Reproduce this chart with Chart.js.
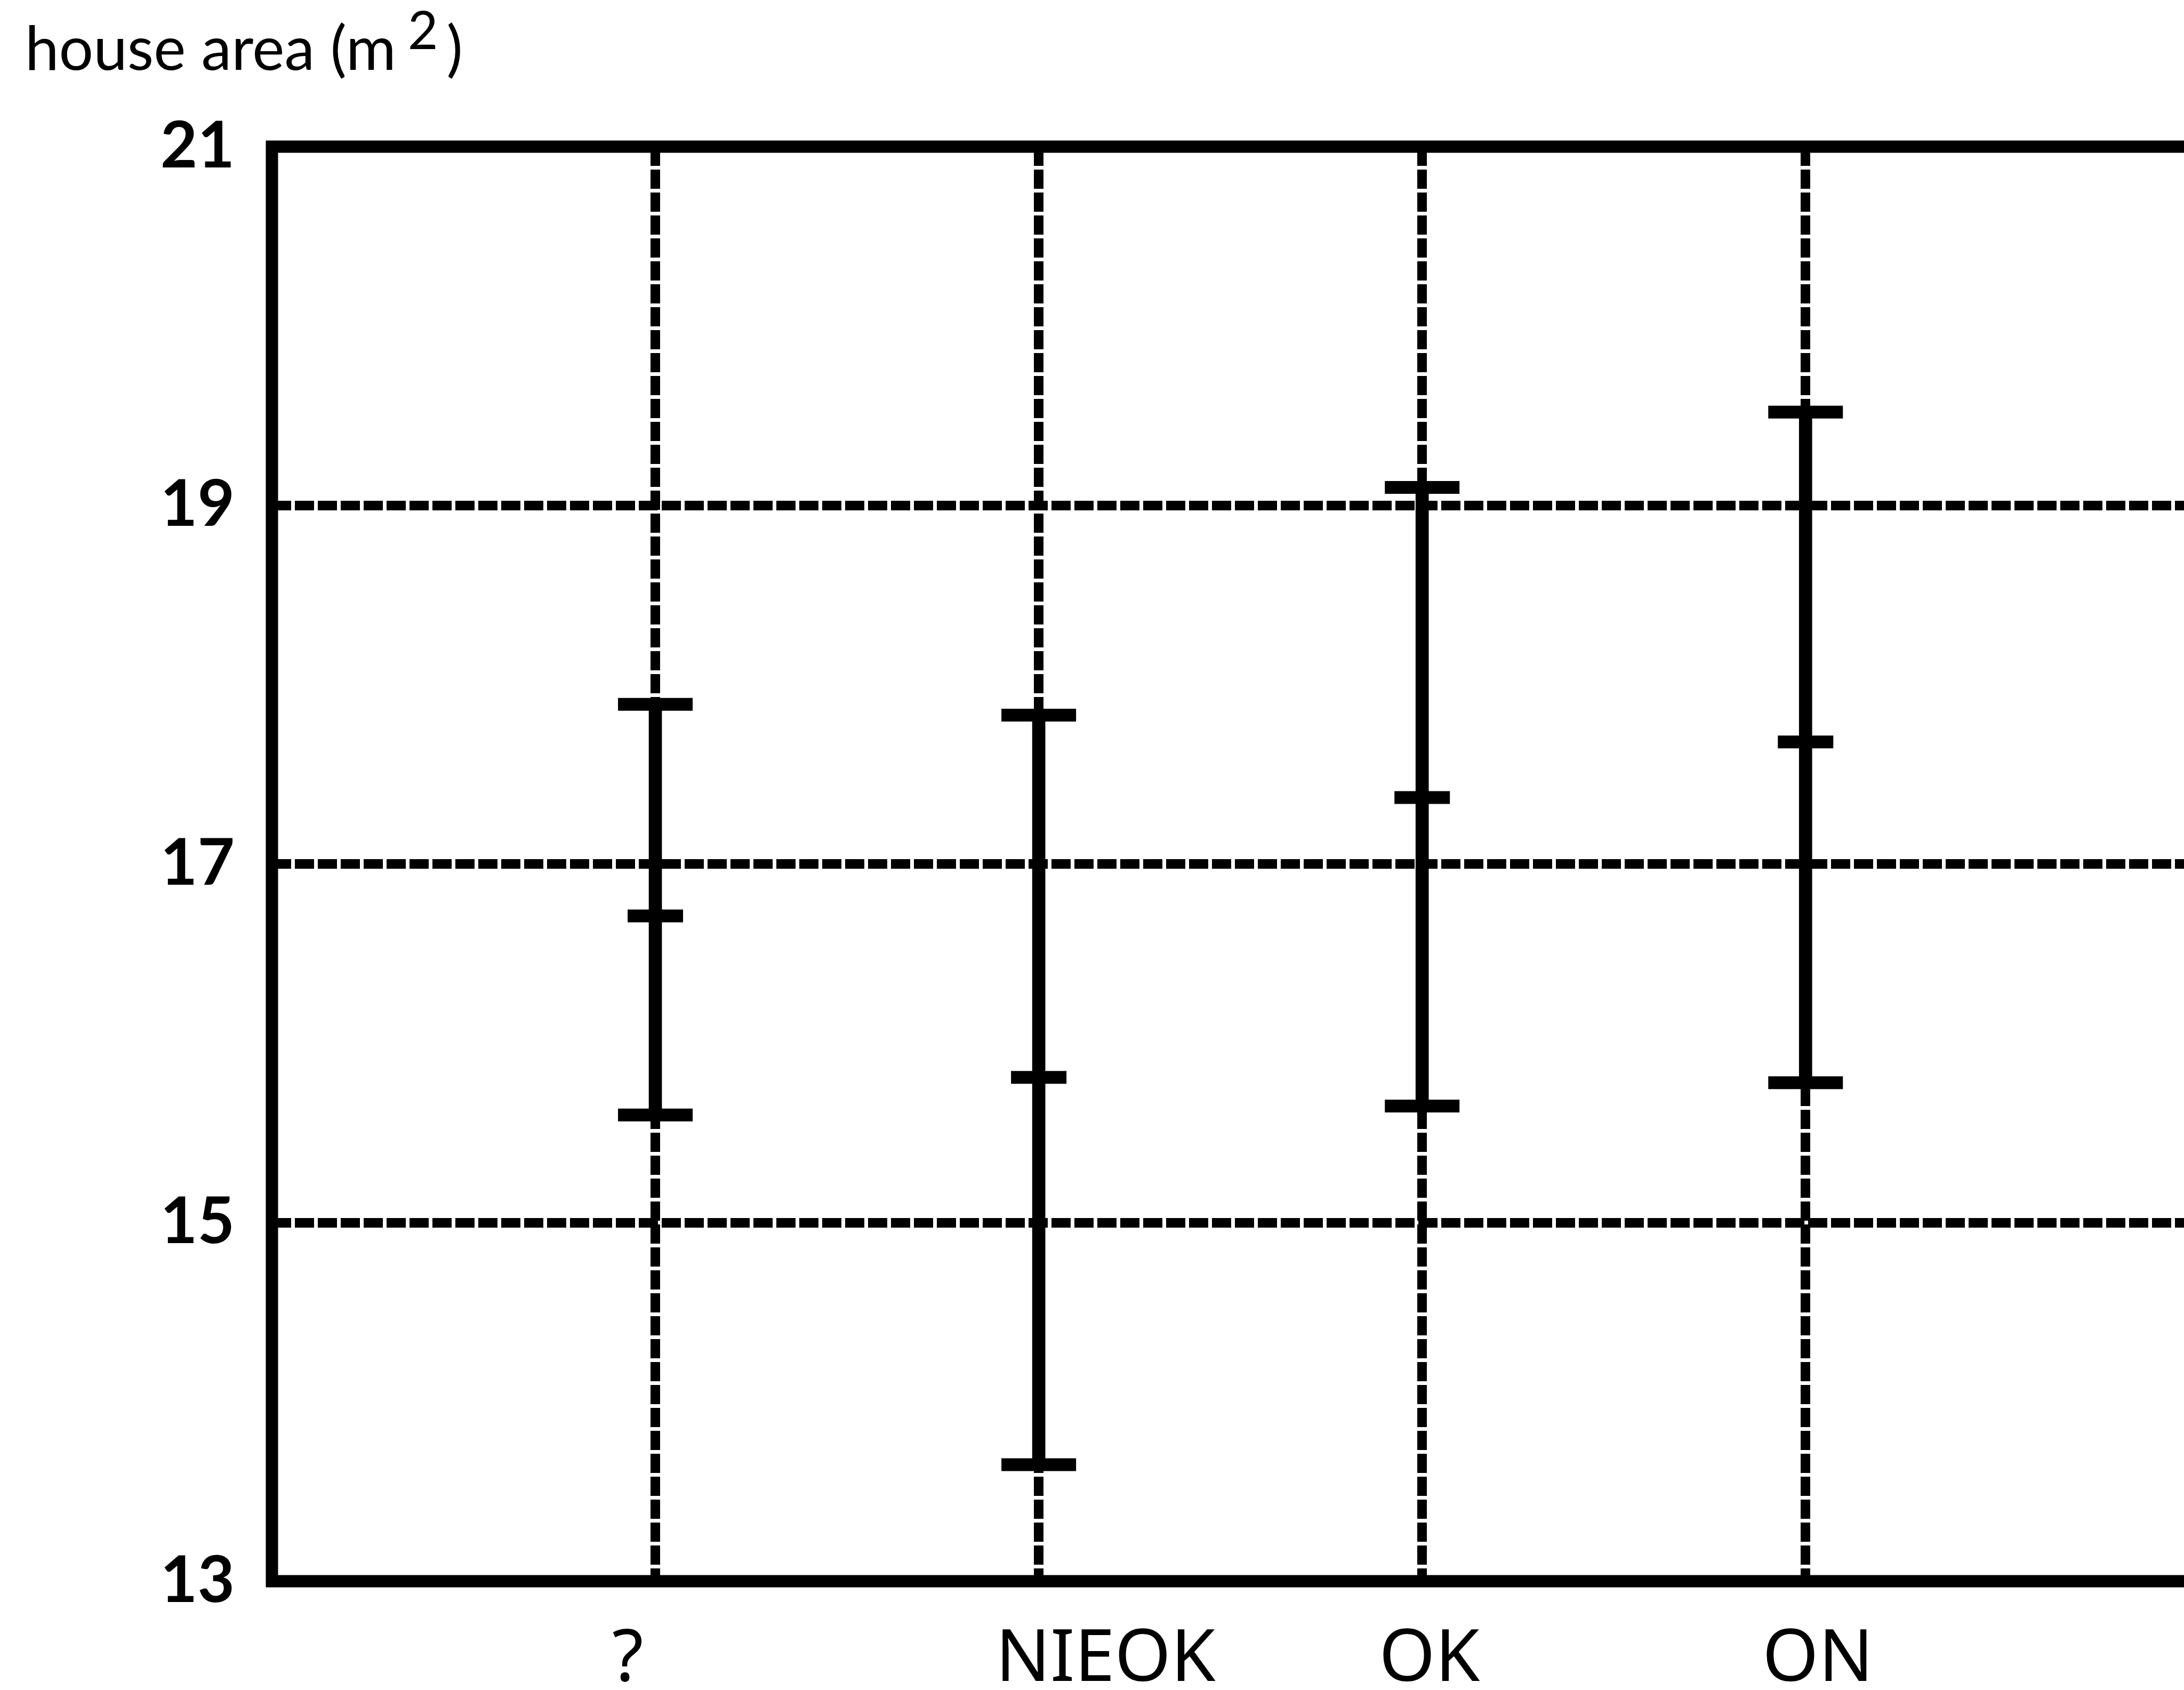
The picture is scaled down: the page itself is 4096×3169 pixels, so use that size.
<!DOCTYPE html>
<html>
<head>
<meta charset="utf-8">
<script src="https://cdn.jsdelivr.net/npm/chart.js@4.4.0/dist/chart.umd.min.js"></script>
<style>
  html, body { margin: 0; padding: 0; background: #fff; overflow: hidden; }
  #wrap { width: 4096px; height: 3169px; }
</style>
</head>
<body>
<div id="wrap"><canvas id="areaChart"></canvas></div>
<script>
// values
const categories = ['?', 'NIEOK', 'OK', 'ON'];
const categoryPos = [1, 2, 3, 4];
const upperValues = [17.89, 17.83, 19.10, 19.52];
const meanValues = [16.71, 15.81, 17.37, 17.68];
const lowerValues = [15.60, 13.65, 15.65, 15.78];
const yTicks = [13, 15, 17, 19, 21];

const titleMain = 'house area (m';
const titleSup = '2';
const titleEnd = ')';

const frameWidth = 23;

const framePlugin = {
    id: 'frame',
    afterDatasetsDraw(chart) {
        const { ctx, chartArea: a } = chart;
        ctx.save();
        ctx.strokeStyle = '#000';
        ctx.lineWidth = frameWidth;
        ctx.lineJoin = 'miter';
        ctx.beginPath();
        ctx.moveTo(a.right + 30, a.top);
        ctx.lineTo(a.left, a.top);
        ctx.lineTo(a.left, a.bottom);
        ctx.lineTo(a.right + 30, a.bottom);
        ctx.stroke();
        ctx.restore();
    }
};

const titlePlugin = {
    id: 'axisTitle',
    afterDraw(chart) {
        const ctx = chart.ctx;
        ctx.save();
        ctx.fillStyle = '#000';
        ctx.textBaseline = 'alphabetic';
        let x = 47;
        ctx.font = '114px Lato';
        ctx.fillText(titleMain, x, 131);
        x += ctx.measureText(titleMain).width + 22;
        ctx.font = '98px Lato';
        ctx.fillText(titleSup, x, 92);
        x += ctx.measureText(titleSup).width + 16;
        ctx.font = '114px Lato';
        ctx.fillText(titleEnd, x, 131);
        ctx.restore();
    }
};

function capDataset(values, radius) {
    return {
        type: 'scatter',
        data: categoryPos.map((x, i) => ({ x: x, y: values[i] })),
        pointStyle: 'line',
        pointRadius: radius,
        pointHoverRadius: radius,
        pointBorderWidth: 24,
        borderColor: '#000',
        backgroundColor: '#000'
    };
}

const ctx = document.getElementById('areaChart').getContext('2d');
new Chart(ctx, {
    type: 'bar',
    data: {
        datasets: [
            {
                type: 'bar',
                data: categoryPos.map((x, i) => ({ x: x, y: [lowerValues[i], upperValues[i]] })),
                backgroundColor: '#000',
                borderWidth: 0,
                barThickness: 24,
                grouped: false
            },
            capDataset(upperValues, 70),
            capDataset(lowerValues, 70),
            capDataset(meanValues, 52)
        ]
    },
    options: {
        responsive: true,
        maintainAspectRatio: false,
        animation: false,
        events: [],
        layout: { autoPadding: false, padding: { top: 275, left: 0, right: 0, bottom: 0 } },
        plugins: {
            legend: { display: false },
            tooltip: { enabled: false }
        },
        scales: {
            x: {
                type: 'linear',
                min: 0,
                max: 4.987,
                offset: false,
                afterBuildTicks: scale => { scale.ticks = categoryPos.map(v => ({ value: v })); },
                afterFit: scale => {
                    scale.height = 204;
                    scale.paddingLeft = 0;
                    scale.paddingRight = 0;
                },
                grid: {
                    color: '#000',
                    lineWidth: 18,
                    offset: false,
                    drawTicks: false
                },
                border: { display: false, dash: [36, 7] },
                ticks: {
                    autoSkip: false,
                    maxRotation: 0,
                    align: 'start',
                    labelOffset: -81,
                    padding: 68,
                    color: '#000',
                    font: { family: 'Noto Sans', size: 135 },
                    callback: value => categories[categoryPos.indexOf(value)]
                }
            },
            y: {
                min: 13,
                max: 21,
                afterBuildTicks: scale => { scale.ticks = yTicks.map(v => ({ value: v })); },
                afterFit: scale => { scale.width = 510; },
                grid: {
                    color: '#000',
                    lineWidth: c => (c.tick && (c.tick.value === 13 || c.tick.value === 21)) ? 0 : 18,
                    drawTicks: false
                },
                border: { display: false, dash: [36, 7] },
                ticks: {
                    padding: 70,
                    color: '#000',
                    font: { family: 'Lato', size: 120, weight: 'bold' }
                }
            }
        }
    },
    plugins: [framePlugin, titlePlugin]
});
</script>
</body>
</html>
